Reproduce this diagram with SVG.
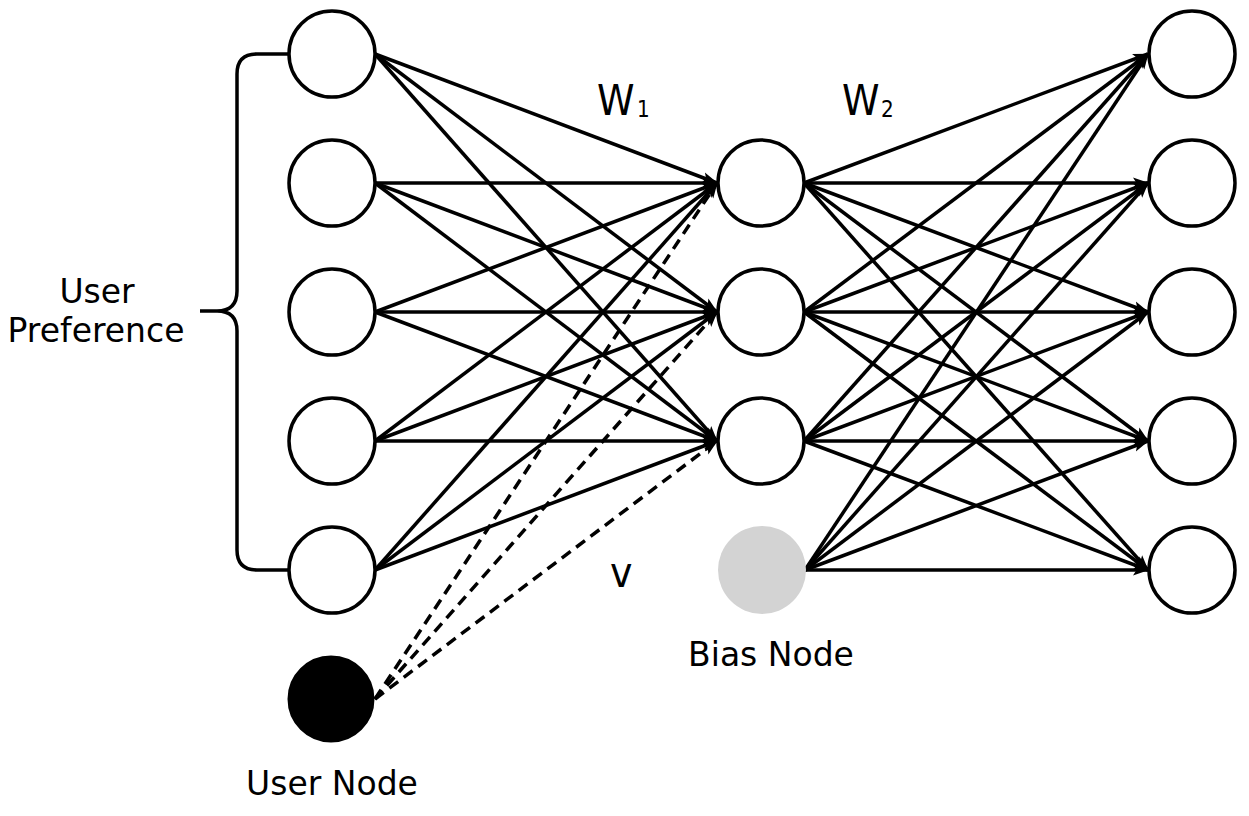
<svg xmlns="http://www.w3.org/2000/svg" width="1249" height="816" viewBox="0 0 1249 816">
<style>
.node{fill:#fff;stroke:#000;stroke-width:3.5}
.user{fill:#000;stroke:#000;stroke-width:3}
.bias{fill:#d3d3d3;stroke:none}
.e{stroke:#000;stroke-width:3.5;fill:none;marker-end:url(#arr)}
.d{stroke:#000;stroke-width:3.5;fill:none;stroke-dasharray:11 7;marker-end:url(#arr)}
.brace{stroke:#000;stroke-width:3.5;fill:none}
text{font-family:"DejaVu Sans","Verdana",sans-serif;fill:#000}
.lbl{font-size:33px}
.eq{font-size:38px}
.sub{font-size:20px}
</style>
<defs>
<marker id="arr" markerUnits="userSpaceOnUse" viewBox="0 0 16 13" markerWidth="16" markerHeight="13" refX="15" refY="6.5" orient="auto">
<path d="M0,1 L16,6.5 L0,12 L3.5,6.5 Z" fill="#000"/>
</marker>
</defs>
<rect width="1249" height="816" fill="#fff"/>
<g id="connectors">
<line class="e" x1="375" y1="54" x2="717" y2="183"/>
<line class="e" x1="375" y1="54" x2="717" y2="312"/>
<line class="e" x1="375" y1="54" x2="717" y2="441"/>
<line class="e" x1="375" y1="183" x2="717" y2="183"/>
<line class="e" x1="375" y1="183" x2="717" y2="312"/>
<line class="e" x1="375" y1="183" x2="717" y2="441"/>
<line class="e" x1="375" y1="312" x2="717" y2="183"/>
<line class="e" x1="375" y1="312" x2="717" y2="312"/>
<line class="e" x1="375" y1="312" x2="717" y2="441"/>
<line class="e" x1="375" y1="441" x2="717" y2="183"/>
<line class="e" x1="375" y1="441" x2="717" y2="312"/>
<line class="e" x1="375" y1="441" x2="717" y2="441"/>
<line class="e" x1="375" y1="570" x2="717" y2="183"/>
<line class="e" x1="375" y1="570" x2="717" y2="312"/>
<line class="e" x1="375" y1="570" x2="717" y2="441"/>
<line class="d" x1="375" y1="699" x2="717" y2="183"/>
<line class="d" x1="375" y1="699" x2="717" y2="312"/>
<line class="d" x1="375" y1="699" x2="717" y2="441"/>
<line class="e" x1="804" y1="183" x2="1148" y2="54"/>
<line class="e" x1="804" y1="183" x2="1148" y2="183"/>
<line class="e" x1="804" y1="183" x2="1148" y2="312"/>
<line class="e" x1="804" y1="183" x2="1148" y2="441"/>
<line class="e" x1="804" y1="183" x2="1148" y2="570"/>
<line class="e" x1="804" y1="312" x2="1148" y2="54"/>
<line class="e" x1="804" y1="312" x2="1148" y2="183"/>
<line class="e" x1="804" y1="312" x2="1148" y2="312"/>
<line class="e" x1="804" y1="312" x2="1148" y2="441"/>
<line class="e" x1="804" y1="312" x2="1148" y2="570"/>
<line class="e" x1="804" y1="441" x2="1148" y2="54"/>
<line class="e" x1="804" y1="441" x2="1148" y2="183"/>
<line class="e" x1="804" y1="441" x2="1148" y2="312"/>
<line class="e" x1="804" y1="441" x2="1148" y2="441"/>
<line class="e" x1="804" y1="441" x2="1148" y2="570"/>
<line class="e" x1="805" y1="570" x2="1148" y2="54"/>
<line class="e" x1="805" y1="570" x2="1148" y2="183"/>
<line class="e" x1="805" y1="570" x2="1148" y2="312"/>
<line class="e" x1="805" y1="570" x2="1148" y2="441"/>
<line class="e" x1="805" y1="570" x2="1148" y2="570"/>
</g>
<g id="input1"><circle class="node" cx="332" cy="54" r="43"/></g>
<g id="input2"><circle class="node" cx="332" cy="183" r="43"/></g>
<g id="input3"><circle class="node" cx="332" cy="312" r="43"/></g>
<g id="input4"><circle class="node" cx="332" cy="441" r="43"/></g>
<g id="input5"><circle class="node" cx="332" cy="570" r="43"/></g>
<g id="userNode"><circle class="user" cx="331" cy="699" r="42"/><text class="lbl" x="332" y="795" text-anchor="middle">User Node</text></g>
<g id="hidden1"><circle class="node" cx="761" cy="183" r="43"/></g>
<g id="hidden2"><circle class="node" cx="761" cy="312" r="43"/></g>
<g id="hidden3"><circle class="node" cx="761" cy="441" r="43"/></g>
<g id="biasNode"><circle class="bias" cx="762" cy="570" r="44"/><text class="lbl" x="771" y="666" text-anchor="middle">Bias Node</text></g>
<g id="output1"><circle class="node" cx="1192" cy="54" r="43"/></g>
<g id="output2"><circle class="node" cx="1192" cy="183" r="43"/></g>
<g id="output3"><circle class="node" cx="1192" cy="312" r="43"/></g>
<g id="output4"><circle class="node" cx="1192" cy="441" r="43"/></g>
<g id="output5"><circle class="node" cx="1192" cy="570" r="43"/></g>
<g id="userPreference">
<path class="brace" d="M288 54 H257 Q237 54 237 74 V291 Q237 311 217 311 H200 M217 311 Q237 311 237 331 V550 Q237 570 257 570 H288"/>
<text class="lbl" x="97" y="303" text-anchor="middle">User</text>
<text class="lbl" x="96" y="342" text-anchor="middle">Preference</text>
</g>
<g id="labels">
<g transform="translate(597,115) scale(1,1.12)"><text class="eq" x="0" y="0">W</text></g>
<g transform="translate(637,117) scale(1,1.12)"><text class="sub" x="0" y="0">1</text></g>
<g transform="translate(842,115) scale(1,1.12)"><text class="eq" x="0" y="0">W</text></g>
<g transform="translate(881,117) scale(1,1.12)"><text class="sub" x="0" y="0">2</text></g>
<g transform="translate(610,587) scale(1,1.12)"><text class="eq" x="0" y="0">v</text></g>
</g>
</svg>
